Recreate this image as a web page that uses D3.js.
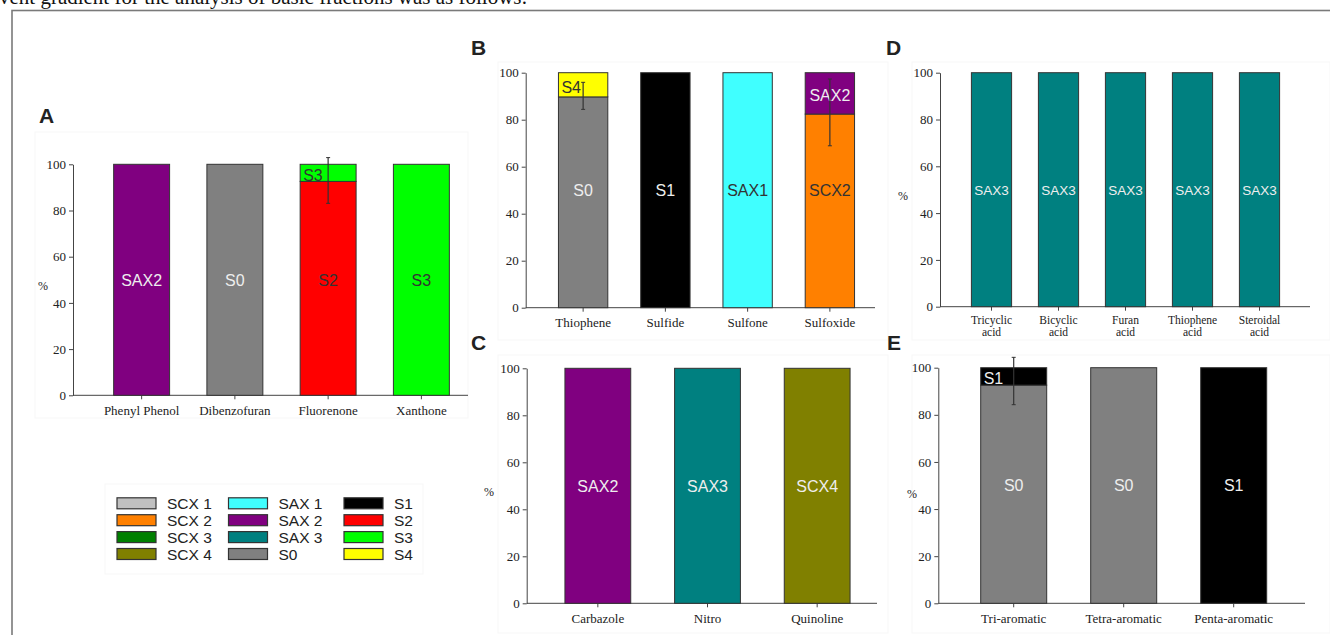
<!DOCTYPE html>
<html>
<head>
<meta charset="utf-8">
<script src="https://cdn.jsdelivr.net/npm/d3@7"></script>
<style>
  body { margin: 0; background: #fff; }
  svg { display: block; }
  .tick text, .xl { font-family: "Liberation Serif", "Times New Roman", serif; font-size: 13px; fill: #222; }
  .pct { font-family: "Liberation Serif", serif; font-size: 12px; fill: #222; }
  .letter { font-family: "Liberation Sans", Arial, sans-serif; font-weight: bold; font-size: 21px; fill: #222; }
  .seg { font-family: "Liberation Sans", Arial, sans-serif; }
  .leg { font-family: "Liberation Sans", Arial, sans-serif; font-size: 15.5px; fill: #222; }
</style>
</head>
<body>
<svg id="fig" width="1330" height="635"></svg>
<script>
// ---- data ----
var catA = ["Phenyl Phenol", "Dibenzofuran", "Fluorenone", "Xanthone"];
var segA = [[["SAX2", 100]], [["S0", 100]], [["S2", 92.6], ["S3", 7.4]], [["S3", 100]]];
var errA = [null, null, [83.1, 102.9], null];

var catB = ["Thiophene", "Sulfide", "Sulfone", "Sulfoxide"];
var segB = [[["S0", 89.7], ["S4", 10.3]], [["S1", 100]], [["SAX1", 100]], [["SCX2", 82.4], ["SAX2", 17.6]]];
var errB = [[84.4, 95.9], null, null, [68.9, 97.3]];

var catC = ["Carbazole", "Nitro", "Quinoline"];
var segC = [[["SAX2", 100]], [["SAX3", 100]], [["SCX4", 100]]];
var errC = [null, null, null];

var catD = ["Tricyclic acid", "Bicyclic acid", "Furan acid", "Thiophene acid", "Steroidal acid"];
var segD = [[["SAX3", 100]], [["SAX3", 100]], [["SAX3", 100]], [["SAX3", 100]], [["SAX3", 100]]];
var errD = [null, null, null, null, null];

var catE = ["Tri-aromatic", "Tetra-aromatic", "Penta-aromatic"];
var segE = [[["S0", 92.6], ["S1", 7.4]], [["S0", 100]], [["S1", 100]]];
var errE = [[84.3, 104.4], null, null];

var yTicks = [0, 20, 40, 60, 80, 100];

var legendKeys = ["SCX1", "SCX2", "SCX3", "SCX4", "SAX1", "SAX2", "SAX3", "S0", "S1", "S2", "S3", "S4"];
var legendLabels = ["SCX 1", "SCX 2", "SCX 3", "SCX 4", "SAX 1", "SAX 2", "SAX 3", "S0", "S1", "S2", "S3", "S4"];

// ---- styles ----
var fill = {
  SCX1: "#c0c0c0", SCX2: "#ff8000", SCX3: "#008000", SCX4: "#808000",
  SAX1: "#40ffff", SAX2: "#800080", SAX3: "#008080", S0: "#808080",
  S1: "#000000", S2: "#ff0000", S3: "#00ff00", S4: "#ffff00"
};
var lightText = { SAX2: 1, SAX3: 1, SCX4: 1, S0: 1, S1: 1, SCX3: 1 };

var svg = d3.select("#fig");

// page snippet and frame
svg.append("text")
  .attr("x", -1).attr("y", 4)
  .style("font-family", "Liberation Serif, serif").style("font-size", "21px").style("fill", "#111")
  .text("vent gradient for the analysis of basic fractions was as follows:");
svg.append("rect")
  .attr("x", 12).attr("y", 10.5).attr("width", 1330).attr("height", 640)
  .attr("fill", "none").attr("stroke", "#7a7a7a").attr("stroke-width", 1.6);

// faint panel boxes
[[35, 132, 433, 286], [498, 62, 390, 278], [498, 355, 390, 278], [912, 62, 418, 278], [912, 355, 418, 278], [105, 484, 318, 90]]
  .forEach(function(b) {
    svg.append("rect").attr("x", b[0]).attr("y", b[1]).attr("width", b[2]).attr("height", b[3])
      .attr("fill", "none").attr("stroke", "#f7f7f7");
  });

function panel(cfg, cats, segs, errs) {
  var g = svg.append("g");
  var x = d3.scaleBand().domain(cats).range([cfg.b0, cfg.b1]).paddingInner(0.4).paddingOuter(0.2);
  var y = d3.scaleLinear().domain([0, 100]).range([cfg.yb, cfg.yt]);

  var yAxis = d3.axisLeft(y).tickValues(yTicks).tickSize(4).tickPadding(3).tickSizeOuter(0);
  var ya = g.append("g").attr("transform", "translate(" + cfg.x0 + ",0)").call(yAxis);
  ya.selectAll("path, line").attr("stroke", "#444");

  var xAxis = d3.axisBottom(x).tickSize(4).tickSizeOuter(0).tickPadding(6);
  if (cfg.twoLine) xAxis.tickFormat("");
  var xa = g.append("g").attr("transform", "translate(0," + cfg.yb + ")").call(xAxis);
  xa.select(".domain").remove();
  xa.selectAll("line").attr("stroke", "#444");
  if (cfg.twoLine) {
    cats.forEach(function(c) {
      c.split(" ").forEach(function(p, i) {
        g.append("text").attr("class", "xl").style("font-size", "11.5px")
          .attr("x", x(c) + x.bandwidth() / 2).attr("y", cfg.yb + 17 + i * 12)
          .attr("text-anchor", "middle").text(p);
      });
    });
  }
  g.append("line")
    .attr("x1", cfg.x0).attr("x2", cfg.x1).attr("y1", cfg.yb).attr("y2", cfg.yb)
    .attr("stroke", "#444");

  // stacked bars
  cats.forEach(function(c, i) {
    var base = 0;
    segs[i].forEach(function(s) {
      var lo = base, hi = base + s[1];
      base = hi;
      g.append("rect")
        .attr("x", x(c)).attr("width", x.bandwidth())
        .attr("y", y(hi)).attr("height", y(lo) - y(hi))
        .attr("fill", fill[s[0]]).attr("stroke", "#333").attr("stroke-width", 1);
      var small = (hi - lo) < 12;
      var ly = (lo <= 50 && hi >= 50) ? y(50) : y((lo + hi) / 2) + 2;
      g.append("text").attr("class", "seg")
        .style("font-size", (cfg.segSize || 16) + "px")
        .attr("x", small ? x(c) + 3 : x(c) + x.bandwidth() / 2)
        .attr("y", ly).attr("dy", "0.36em")
        .attr("text-anchor", small ? "start" : "middle")
        .style("fill", lightText[s[0]] ? "#eeeeee" : "#333333")
        .text(s[0]);
    });
    if (errs[i]) {
      var cx = x(c) + x.bandwidth() / 2;
      g.append("line").attr("x1", cx).attr("x2", cx)
        .attr("y1", y(errs[i][0])).attr("y2", y(errs[i][1]))
        .attr("stroke", "#333").attr("stroke-width", 1.2);
      [errs[i][0], errs[i][1]].forEach(function(v) {
        g.append("line").attr("x1", cx - 2).attr("x2", cx + 2)
          .attr("y1", y(v)).attr("y2", y(v)).attr("stroke", "#333");
      });
    }
  });

  if (cfg.pct) {
    g.append("text").attr("class", "pct").attr("x", cfg.pct[0]).attr("y", cfg.pct[1])
      .attr("text-anchor", "middle").attr("dy", "0.35em").text("%");
  }
  svg.append("text").attr("class", "letter").attr("x", cfg.letter[1]).attr("y", cfg.letter[2]).text(cfg.letter[0]);
}

panel({ x0: 73, x1: 468, b0: 95, b1: 468, yt: 164.3, yb: 395.3, pct: [43, 286], letter: ["A", 39, 123] }, catA, segA, errA);
panel({ x0: 525.7, x1: 875, b0: 542, b1: 871, yt: 72.7, yb: 307.7, letter: ["B", 471, 55] }, catB, segB, errB);
panel({ x0: 526.7, x1: 877, b0: 543, b1: 872, yt: 368.3, yb: 603.3, pct: [489, 492], letter: ["C", 471, 350] }, catC, segC, errC);
panel({ x0: 940, x1: 1310, b0: 958, b1: 1293, yt: 72.7, yb: 306.7, pct: [903, 196], twoLine: true, segSize: 13.5, letter: ["D", 886, 55] }, catD, segD, errD);
panel({ x0: 938.3, x1: 1305, b0: 958.7, b1: 1288.7, yt: 367.7, yb: 603.3, pct: [912, 494], letter: ["E", 887, 350] }, catE, segE, errE);

// legend, 3 columns x 4 rows
var legX = d3.scaleOrdinal().domain([0, 1, 2]).range([117, 228.5, 344]);
var legY = d3.scalePoint().domain([0, 1, 2, 3]).range([503.3, 554]);
legendKeys.forEach(function(k, i) {
  var col = Math.floor(i / 4), row = i % 4;
  var gx = legX(col), gy = legY(row);
  svg.append("rect").attr("x", gx).attr("y", gy - 5.5).attr("width", 39).attr("height", 11)
    .attr("fill", fill[k]).attr("stroke", "#333").attr("stroke-width", 1.2);
  svg.append("text").attr("class", "leg").attr("x", gx + 50).attr("y", gy).attr("dy", "0.36em")
    .text(legendLabels[i]);
});
</script>
</body>
</html>
